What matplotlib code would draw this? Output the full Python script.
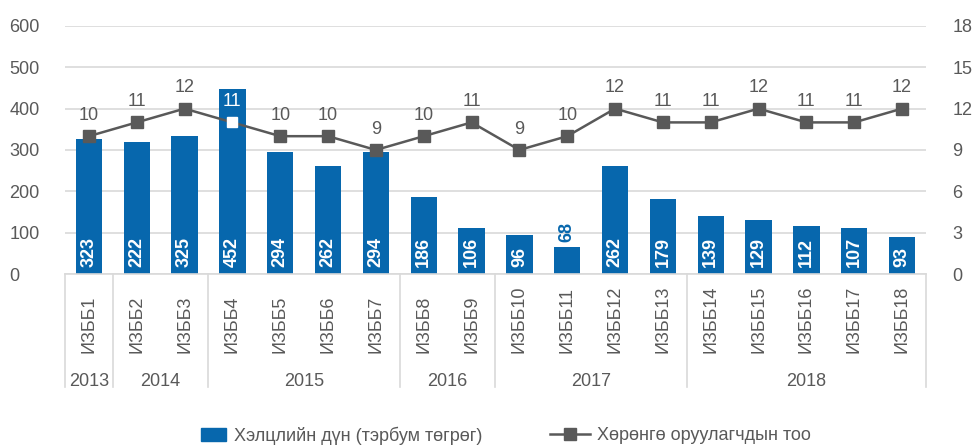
import numpy as np
import matplotlib
matplotlib.use("Agg")
import matplotlib.pyplot as plt
import matplotlib.transforms as mtransforms
from matplotlib.lines import Line2D
from matplotlib.patches import Patch

plt.rcParams['font.family'] = ['Liberation Sans', 'DejaVu Sans']

categories = ["ИЗББ1", "ИЗББ2", "ИЗББ3", "ИЗББ4", "ИЗББ5", "ИЗББ6", "ИЗББ7", "ИЗББ8", "ИЗББ9",
              "ИЗББ10", "ИЗББ11", "ИЗББ12", "ИЗББ13", "ИЗББ14", "ИЗББ15", "ИЗББ16", "ИЗББ17", "ИЗББ18"]
years = ["2013", "2014", "2015", "2016", "2017", "2018"]
year_sizes = [1, 2, 4, 2, 4, 5]

# bar heights as drawn, and the labels printed on them (they differ in places)
deal_amount = [326, 319, 334, 448, 295, 261, 295, 186, 111, 94, 65, 261, 181, 140, 131, 116, 111, 90]
deal_labels = [323, 222, 325, 452, 294, 262, 294, 186, 106, 96, 68, 262, 179, 139, 129, 112, 107, 93]
investors = [10, 11, 12, 11, 10, 10, 9, 10, 11, 9, 10, 12, 11, 11, 12, 11, 11, 12]

bar_name = "Хэлцлийн дүн (тэрбум төгрөг)"
line_name = "Хөрөнгө оруулагчдын тоо"

blue = "#0767AD"
gray = "#595959"
grid_c = "#D9D9D9"

fig = plt.figure(figsize=(9.74, 4.47), dpi=100)
ax = fig.add_axes([0.0667, 0.387, 0.884, 0.555])
ax2 = ax.twinx()

x = np.arange(len(categories))
ax.bar(x, deal_amount, width=0.55, color=blue, zorder=2)
ax.set_ylim(0, 600)
ax.set_yticks(range(0, 601, 100))
ax.set_xlim(-0.5, len(categories) - 0.5)
ax.set_xticks([])
ax.grid(axis='y', color=grid_c, linewidth=1.2, zorder=0)
for s in ax.spines.values():
    s.set_visible(False)
for s in ax2.spines.values():
    s.set_visible(False)
ax.axhline(0, color=grid_c, linewidth=1.2, zorder=3, clip_on=False)

ax.tick_params(axis='y', length=0, pad=40, labelsize=13, labelcolor=gray)
for lab in ax.get_yticklabels():
    lab.set_horizontalalignment('left')

for i, (v, lab) in enumerate(zip(deal_amount, deal_labels)):
    if v < 80:
        ax.annotate(str(lab), (i, v), xytext=(0, 4), textcoords='offset points',
                    rotation=90, ha='center', va='bottom', color=blue,
                    fontsize=13, fontweight='bold')
    else:
        ax.annotate(str(lab), (i, 0), xytext=(0, 5), textcoords='offset points',
                    rotation=90, ha='center', va='bottom', color='white',
                    fontsize=13, fontweight='bold', zorder=4)

# point 4 sits inside the tall bar and is drawn white
special = 3
gray_pts = [i for i in range(len(investors)) if i != special]
ax2.plot(x, investors, color=gray, linewidth=1.8, marker='s', markersize=8,
         markerfacecolor=gray, markeredgecolor=gray, markevery=gray_pts, zorder=3)
ax2.plot([x[special]], [investors[special]], linestyle='none', marker='s', markersize=7,
         markerfacecolor='white', markeredgecolor='white', zorder=4)
ax2.set_ylim(0, 18)
ax2.set_yticks(range(0, 19, 3))
ax2.tick_params(axis='y', length=0, pad=19, labelsize=13, labelcolor=gray)
for i, v in enumerate(investors):
    ax2.annotate(str(v), (i, v), xytext=(0, 15), textcoords='offset points',
                 ha='center', va='center', fontsize=13,
                 color='white' if i == special else gray)

# two-level category axis
trans = mtransforms.blended_transform_factory(ax.transData, ax.transAxes)
for i, c in enumerate(categories):
    ax.text(i, -0.318, c, transform=trans, rotation=90, ha='center', va='bottom',
            fontsize=13, color=gray)
edges = np.concatenate([[0], np.cumsum(year_sizes)]) - 0.5
for e in edges:
    ax.plot([e, e], [0, -0.456], transform=trans, color=grid_c, linewidth=1.2, clip_on=False)
for y, a, b in zip(years, edges[:-1], edges[1:]):
    ax.text((a + b) / 2, -0.435, y, transform=trans, ha='center', va='center',
            fontsize=13, color=gray)

# legend, two parts so the handles can have different widths
leg1 = fig.legend([Patch(facecolor=blue, edgecolor=blue)], [bar_name],
                  loc='center left', bbox_to_anchor=(0.206, 0.025), frameon=False,
                  fontsize=13, labelcolor=gray, handlelength=1.4, handleheight=0.7,
                  handletextpad=0.45, borderpad=0, borderaxespad=0)
leg2 = fig.legend([Line2D([0], [0], color=gray, linewidth=1.8, marker='s', markersize=8)],
                  [line_name], loc='center left', bbox_to_anchor=(0.565, 0.025),
                  frameon=False, fontsize=13, labelcolor=gray, handlelength=2.2,
                  handletextpad=0.4, borderpad=0, borderaxespad=0)

fig.savefig("out.png", dpi=100)
